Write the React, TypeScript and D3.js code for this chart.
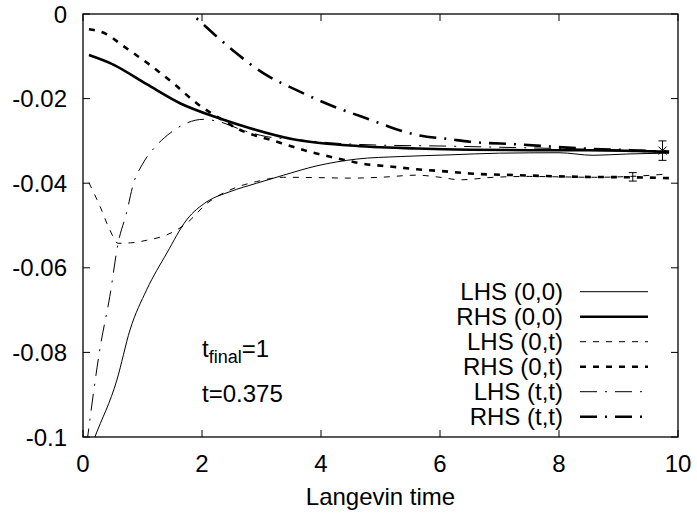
import React from 'react'
import * as d3 from 'd3'

// values
const lhs00X = [0.12, 0.2, 0.57, 0.79, 1.07, 1.41, 1.74, 2.08, 2.47, 2.92, 3.37, 3.93, 4.6, 5.33, 6.17, 7.0, 8.0, 8.57, 9.14, 9.85]
const lhs00Y = [-0.103, -0.1, -0.0865, -0.0747, -0.0652, -0.0565, -0.0487, -0.0444, -0.042, -0.04, -0.0381, -0.0359, -0.0343, -0.0337, -0.0333, -0.0329, -0.0328, -0.0334, -0.0331, -0.0329]

const rhs00X = [0.1, 0.5, 1.07, 1.63, 2.3, 2.81, 3.53, 4.49, 5.61, 6.5, 7.5, 8.5, 9.3, 9.85]
const rhs00Y = [-0.0097, -0.0119, -0.0166, -0.0211, -0.0247, -0.027, -0.0296, -0.0311, -0.0318, -0.0321, -0.0322, -0.0322, -0.0324, -0.0326]

const lhs0tX = [0.1, 0.29, 0.45, 0.59, 0.8, 1.07, 1.41, 1.74, 2.08, 2.47, 2.92, 3.37, 4.0, 4.49, 5.0, 5.61, 6.0, 6.34, 6.9, 7.5, 8.0, 8.6, 9.2, 9.85]
const lhs0tY = [-0.0399, -0.0456, -0.051, -0.0542, -0.0541, -0.0535, -0.0522, -0.0495, -0.0448, -0.0416, -0.0396, -0.0386, -0.0387, -0.0388, -0.0386, -0.0381, -0.0386, -0.0392, -0.0386, -0.0384, -0.0385, -0.0386, -0.0384, -0.0378]

const rhs0tX = [0.1, 0.4, 0.65, 1.13, 1.52, 1.91, 2.3, 2.58, 3.26, 3.82, 4.3, 4.66, 5.2, 5.61, 6.17, 6.5, 7.29, 8.4, 9.2, 9.85]
const rhs0tY = [-0.0036, -0.0048, -0.0073, -0.0121, -0.0164, -0.0211, -0.0247, -0.027, -0.0302, -0.0326, -0.0342, -0.0353, -0.0361, -0.0367, -0.0373, -0.0377, -0.0381, -0.0385, -0.0386, -0.0388]

const lhsttX = [0.06, 0.29, 0.45, 0.59, 0.73, 0.85, 1.0, 1.24, 1.46, 1.74, 2.02, 2.3, 2.69, 3.09, 3.53, 4.2, 5.0, 6.0, 7.0, 8.0, 9.0, 9.85]
const lhsttY = [-0.102, -0.0787, -0.0668, -0.0542, -0.0471, -0.04, -0.0355, -0.031, -0.0282, -0.0258, -0.0249, -0.0255, -0.0275, -0.029, -0.0296, -0.0305, -0.031, -0.0312, -0.0315, -0.0318, -0.0321, -0.0324]

const rhsttX = [1.6, 1.83, 2.19, 2.58, 3.03, 3.59, 4.15, 4.77, 5.61, 6.17, 6.5, 7.29, 8.4, 9.2, 9.85]
const rhsttY = [0.003, 0, -0.0046, -0.0093, -0.014, -0.018, -0.0215, -0.0247, -0.0286, -0.0296, -0.0302, -0.0308, -0.0318, -0.0322, -0.0326]

const errX = [9.24, 9.74]
const errY = [-0.0385, -0.0323]
const errD = [0.001, 0.0023]

const xTicks = [0, 2, 4, 6, 8, 10]
const yTicks = [0, -0.02, -0.04, -0.06, -0.08, -0.1]
const yTickLabels = ['0', '-0.02', '-0.04', '-0.06', '-0.08', '-0.1']

const seriesNames = ['LHS (0,0)', 'RHS (0,0)', 'LHS (0,t)', 'RHS (0,t)', 'LHS (t,t)', 'RHS (t,t)']

const W = 697
const H = 514
const margin = { top: 14, right: 19, bottom: 77, left: 83 }
const FONT = 'Liberation Sans, Arial, sans-serif'
const FS = 24

const styles = [
  { width: 1, dash: null },
  { width: 2.6, dash: null },
  { width: 1, dash: '6,7' },
  { width: 2.6, dash: '6,7' },
  { width: 1, dash: '17,8,2,8' },
  { width: 2.6, dash: '17,8,2,8' }
]

export default function App() {
  const x = d3.scaleLinear().domain([0, 10]).range([margin.left, W - margin.right])
  const y = d3.scaleLinear().domain([-0.1, 0]).range([H - margin.bottom, margin.top])

  const series = [
    [lhs00X, lhs00Y],
    [rhs00X, rhs00Y],
    [lhs0tX, lhs0tY],
    [rhs0tX, rhs0tY],
    [lhsttX, lhsttY],
    [rhsttX, rhsttY]
  ].map(([xs, ys]) => xs.map((v, i) => [v, ys[i]] as [number, number]))

  const line = d3
    .line<[number, number]>()
    .x(d => x(d[0]))
    .y(d => y(d[1]))
    .curve(d3.curveMonotoneX)

  const x0 = x(0), x1 = x(10), y0 = y(-0.1), y1 = y(0)
  const tick = 7
  const legendTextX = 563
  const legendLine = [580, 648]

  return (
    <svg width={W} height={H} style={{ position: 'absolute', left: 0, top: 0, background: '#fff' }} fontFamily={FONT}>
      <defs>
        <clipPath id="plot">
          <rect x={x0} y={y1} width={x1 - x0} height={y0 - y1} />
        </clipPath>
      </defs>
      <rect width={W} height={H} fill="#fff" />

      {/* ticks on all four sides, pointing inward */}
      {xTicks.map(t => (
        <g key={'xt' + t}>
          <line x1={x(t)} x2={x(t)} y1={y0} y2={y0 - tick} stroke="#000" />
          <line x1={x(t)} x2={x(t)} y1={y1} y2={y1 + tick} stroke="#000" />
          <text x={x(t)} y={472} fontSize={FS} textAnchor="middle">{t}</text>
        </g>
      ))}
      {yTicks.map((t, i) => (
        <g key={'yt' + t}>
          <line x1={x0} x2={x0 + tick} y1={y(t)} y2={y(t)} stroke="#000" />
          <line x1={x1} x2={x1 - tick} y1={y(t)} y2={y(t)} stroke="#000" />
          <text x={67} y={y(t) + 8.5} fontSize={FS} textAnchor="end">{yTickLabels[i]}</text>
        </g>
      ))}

      <g clipPath="url(#plot)" fill="none" stroke="#000">
        {series.map((s, i) => (
          <path
            key={i}
            d={line(s) || ''}
            strokeWidth={styles[i].width}
            strokeDasharray={styles[i].dash || undefined}
          />
        ))}
      </g>

      {/* error bars at the end */}
      {errX.map((v, i) => (
        <g key={'e' + i} stroke="#000" strokeWidth={1}>
          <line x1={x(v)} x2={x(v)} y1={y(errY[i] + errD[i])} y2={y(errY[i] - errD[i])} />
          <line x1={x(v) - 4} x2={x(v) + 4} y1={y(errY[i] + errD[i])} y2={y(errY[i] + errD[i])} />
          <line x1={x(v) - 4} x2={x(v) + 4} y1={y(errY[i] - errD[i])} y2={y(errY[i] - errD[i])} />
          {i === 1 && (
            <g>
              <line x1={x(v) - 4} x2={x(v) + 4} y1={y(errY[i]) - 4} y2={y(errY[i]) + 4} />
              <line x1={x(v) - 4} x2={x(v) + 4} y1={y(errY[i]) + 4} y2={y(errY[i]) - 4} />
            </g>
          )}
        </g>
      ))}

      <rect x={x0} y={y1} width={x1 - x0} height={y0 - y1} fill="none" stroke="#000" strokeWidth={1.3} />

      {/* legend */}
      {seriesNames.map((n, i) => {
        const ly = 291.7 + i * 25
        return (
          <g key={n}>
            <text x={legendTextX} y={ly + 8.5} fontSize={FS} textAnchor="end">{n}</text>
            <line
              x1={legendLine[0]}
              x2={legendLine[1]}
              y1={ly}
              y2={ly}
              stroke="#000"
              strokeWidth={styles[i].width}
              strokeDasharray={styles[i].dash || undefined}
            />
          </g>
        )
      })}

      <text x={202} y={357} fontSize={FS}>
        t<tspan fontSize={18} dy={6}>final</tspan><tspan dy={-6}>=1</tspan>
      </text>
      <text x={202} y={402} fontSize={FS}>t=0.375</text>

      <text x={(x0 + x1) / 2} y={505} fontSize={FS} textAnchor="middle">Langevin time</text>
    </svg>
  )
}
